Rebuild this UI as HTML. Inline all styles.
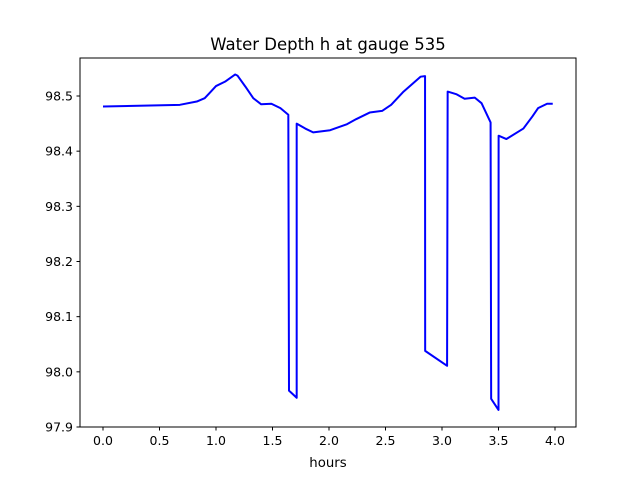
<!DOCTYPE html>
<html><head><meta charset="utf-8"><style>
body{margin:0;background:#fff;font-family:"Liberation Sans","DejaVu Sans",sans-serif}
svg text{font-family:"DejaVu Sans","Liberation Sans",sans-serif}
</style></head><body>
<svg id="chart" width="640" height="480">
<rect width="640" height="480" fill="#fff"/>
<text x="328" y="50" font-size="16.5" text-anchor="middle">Water Depth h at gauge 535</text>
<g id="axes"></g>
<rect x="80" y="58" width="496" height="369" fill="none" stroke="#000" stroke-width="1"/>
<text x="328" y="467" font-size="13.3" text-anchor="middle">hours</text>
</svg>
<script>
const times=[0,0.68,0.83,0.90,0.95,1.0,1.08,1.17,1.19,1.26,1.33,1.40,1.49,1.57,1.64,1.646,1.714,1.714,1.79,1.86,2.01,2.16,2.24,2.36,2.47,2.55,2.66,2.81,2.85,2.851,3.045,3.05,3.13,3.20,3.29,3.35,3.43,3.435,3.50,3.501,3.57,3.72,3.80,3.85,3.93,3.98];
const depths=[98.481,98.484,98.490,98.496,98.507,98.518,98.526,98.539,98.537,98.517,98.496,98.485,98.486,98.478,98.466,97.966,97.953,98.450,98.441,98.434,98.438,98.449,98.458,98.470,98.473,98.484,98.508,98.535,98.536,98.038,98.011,98.508,98.503,98.495,98.497,98.487,98.452,97.951,97.931,98.428,98.422,98.441,98.463,98.478,98.486,98.486];
const xTicks=[0,0.5,1.0,1.5,2.0,2.5,3.0,3.5,4.0];
const xTickLabels=["0.0","0.5","1.0","1.5","2.0","2.5","3.0","3.5","4.0"];
const yTicks=[97.9,98.0,98.1,98.2,98.3,98.4,98.5];
const yTickLabels=["97.9","98.0","98.1","98.2","98.3","98.4","98.5"];
const xs=t=>103+t*113;
const ys=v=>427-(v-97.9)/0.6*331;
const NS="http://www.w3.org/2000/svg";
const g=document.getElementById('axes');
xTicks.forEach((t,i)=>{
 const l=document.createElementNS(NS,'line');
 
 
 l.setAttribute('x1',xs(t));l.setAttribute('x2',xs(t));l.setAttribute('y1',427);l.setAttribute('y2',430.5);l.setAttribute('stroke','#000');
 g.appendChild(l);
 const tx=document.createElementNS(NS,'text');
 
 
 tx.setAttribute('x',xs(t));tx.setAttribute('y',445);tx.setAttribute('font-size','12.5');tx.setAttribute('text-anchor','middle');
 tx.textContent=xTickLabels[i];g.appendChild(tx);
});
yTicks.forEach((v,i)=>{
 const l=document.createElementNS(NS,'line');
 
 
 l.setAttribute('x1',76.5);l.setAttribute('x2',80);l.setAttribute('y1',ys(v));l.setAttribute('y2',ys(v));l.setAttribute('stroke','#000');
 g.appendChild(l);
 const tx=document.createElementNS(NS,'text');
 
 
 tx.setAttribute('x',73);tx.setAttribute('y',ys(v)+4.5);tx.setAttribute('font-size','12.5');tx.setAttribute('text-anchor','end');
 tx.textContent=yTickLabels[i];g.appendChild(tx);
});
const p=document.createElementNS(NS,'polyline');


p.setAttribute('points',times.map((t,i)=>xs(t)+','+ys(depths[i])).join(' '));
p.setAttribute('fill','none');p.setAttribute('stroke','#0000ff');p.setAttribute('stroke-width','2');p.setAttribute('stroke-linejoin','round');
g.appendChild(p);
</script>
</body></html>
